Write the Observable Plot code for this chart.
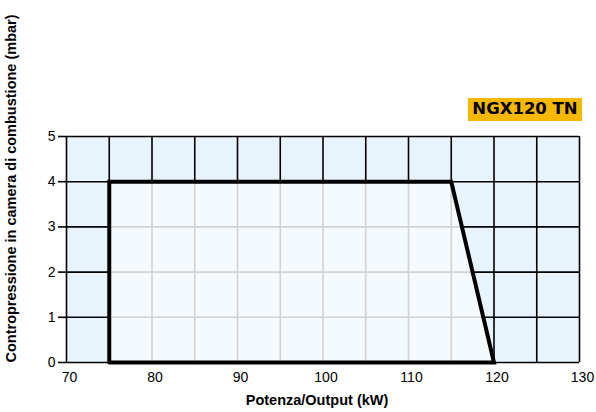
<!DOCTYPE html>
<html><head><meta charset="utf-8">
<script src="https://cdn.jsdelivr.net/npm/d3@7"></script>
<script src="https://cdn.jsdelivr.net/npm/@observablehq/plot@0.6"></script>
<style>
body{margin:0;background:#fff;}
#wrap{position:relative;width:596px;height:412px;}
#badge{position:absolute;left:468px;top:98px;width:114px;height:23px;background:#f9b800;color:#000;font:bold 16.5px "DejaVu Sans",sans-serif;display:flex;align-items:center;justify-content:center;line-height:1;}
</style></head><body><div id="wrap"><div id="badge"></div></div>
<script>
const modelName = "NGX120 TN";
const xLabel = "Potenza/Output (kW)";
const yLabel = "Contropressione in camera di combustione (mbar)";
const xTicks = [70, 80, 90, 100, 110, 120, 130];
const yTicks = [0, 1, 2, 3, 4, 5];
const gridX = [70, 75, 80, 85, 90, 95, 100, 105, 110, 115, 120, 125, 130];
const gridY = [0, 1, 2, 3, 4, 5];
// working envelope (closed polygon)
const envOutput = [75, 75, 115, 120, 75];
const envPressure = [0, 4, 4, 0, 0];

const envelope = envOutput.map((x, i) => ({x, y: envPressure[i]}));
const envTop = envelope.slice(1, 4); // upper boundary for the filled area
const xmin = d3.min(envOutput), xmax = d3.max(envOutput), ymax = d3.max(envPressure);
function topAt(x) {
  for (let i = 0; i < envTop.length - 1; i++) {
    const a = envTop[i], b = envTop[i + 1];
    if (x >= a.x && x <= b.x) return a.y + (b.y - a.y) * (x - a.x) / (b.x - a.x);
  }
  return 0;
}
function rightAt(y) {
  const a = envTop[1], b = envTop[2];
  return a.x + (b.x - a.x) * (a.y - y) / (a.y - b.y);
}
const innerV = gridX.filter(x => x > xmin && x < xmax).map(x => ({x, y1: 0, y2: topAt(x)}));
const innerH = gridY.filter(y => y > 0 && y < ymax).map(y => ({y, x1: xmin, x2: rightAt(y)}));

document.getElementById("badge").textContent = modelName;

const chart = Plot.plot({
  width: 596, height: 412,
  marginLeft: 66, marginRight: 17, marginTop: 136, marginBottom: 50,
  style: {fontFamily: "'Liberation Sans', Arial, sans-serif", fontSize: "14px", color: "#000", background: "#fff"},
  x: {domain: [70, 130], ticks: xTicks, label: null},
  y: {domain: [0, 5], ticks: yTicks, label: null},
  marks: [
    Plot.frame({fill: "#e8f4fc", stroke: null}),
    Plot.ruleX(gridX, {stroke: "#000", strokeWidth: 1.6}),
    Plot.ruleY(gridY, {stroke: "#000", strokeWidth: 1.6}),
    Plot.areaY(envTop, {x: "x", y: "y", fill: "#f5fafe"}),
    Plot.ruleX(innerV, {x: "x", y1: "y1", y2: "y2", stroke: "#d2d2d2", strokeWidth: 1.6}),
    Plot.ruleY(innerH, {y: "y", x1: "x1", x2: "x2", stroke: "#d2d2d2", strokeWidth: 1.6}),
    Plot.line(envelope, {x: "x", y: "y", stroke: "#000", strokeWidth: 4, strokeLinejoin: "miter", strokeMiterlimit: 10}),
    Plot.axisY(yTicks, {tickSize: 8, tickPadding: 3, stroke: "#000", strokeWidth: 1.6, fontSize: 14}),
    Plot.axisX(xTicks, {tickSize: 0, tickPadding: 10, dx: 3, fontSize: 14}),
    Plot.text([xLabel], {frameAnchor: "bottom", text: d => d, dy: 42, dx: -6, fontWeight: "bold", fontSize: 14.5}),
    Plot.text([yLabel], {frameAnchor: "bottom-left", text: d => d, rotate: -90, textAnchor: "start", dx: -51, fontWeight: "bold", fontSize: 14.5})
  ]
});
document.getElementById("wrap").prepend(chart);
</script></body></html>
